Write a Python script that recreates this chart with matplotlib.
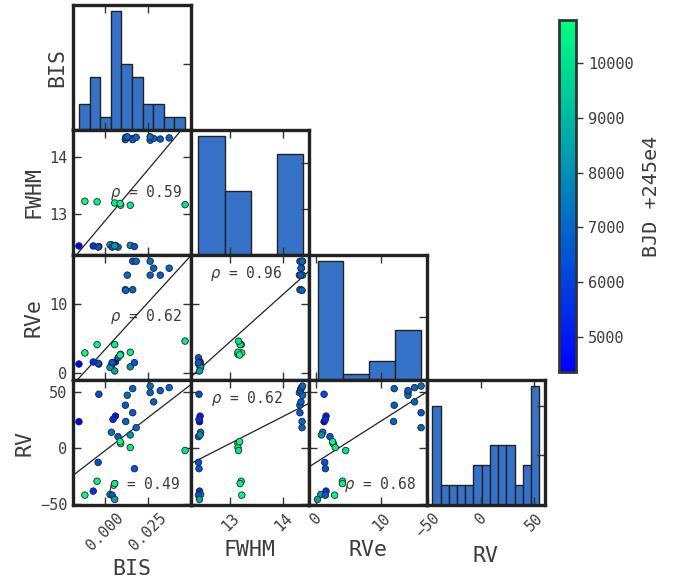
import numpy as np
import matplotlib
matplotlib.use("Agg")
import matplotlib.pyplot as plt
from matplotlib.ticker import MaxNLocator
from matplotlib.colors import Normalize

plt.rcParams['font.family'] = ['DejaVu Sans Mono', 'DejaVu Sans']

# ---- data: one entry per spectrum ----
names = ["BIS", "FWHM", "RVe", "RV"]

bis = [-0.0148, -0.0034, 0.0061, 0.0047, 0.0038, 0.0076, 0.0146, -0.0038, 0.0170,
       -0.0066, 0.0030, 0.0042, 0.0057,
       0.0160, 0.0118, 0.0120, 0.0260, 0.0129, 0.0318, 0.0369, 0.0280, 0.0260,
       0.0160, 0.0180,
       -0.0114, -0.0044, 0.0057, 0.0091, 0.0146, 0.0460, 0.0088]
fwhm = [12.43, 12.42, 12.44, 12.42, 12.45, 12.41, 12.44, 12.41, 12.42,
        12.43, 12.45, 12.41, 12.43,
        14.33, 14.31, 14.35, 14.30, 14.36, 14.32, 14.34, 14.33, 14.36,
        14.31, 14.35,
        13.22, 13.21, 13.19, 13.15, 13.15, 13.16, 13.18]
rve = [1.3, 1.3, 1.6, 1.5, 1.1, 2.2, 0.9, 1.4, 1.5,
       1.6, 0.8, 1.5, 0.3,
       12.0, 12.0, 11.9, 14.1, 14.1, 14.1, 15.1, 15.1, 16.1,
       16.1, 16.1,
       2.9, 4.1, 4.1, 2.7, 3.0, 4.6, 2.6]
rv = [23.3, 47.8, 28.3, 25.4, 13.9, 10.0, 11.5, -13.0, -18.6,
      -38.6, -41.6, -42.2, -46.0,
      52.8, 38.0, 23.5, 49.3, 46.9, 51.0, 53.7, 41.0, 55.1,
      31.3, 18.0,
      -42.2, -29.8, -31.9, 3.8, 0.3, -2.4, 5.5]
bjd = [4360, 6300, 5000, 5500, 7300, 6600, 8000, 6400, 6500,
       5600, 8200, 6600, 8400,
       6800, 6700, 6900, 6800, 7000, 6700, 6900, 6800, 7100,
       6600, 6900,
       10790, 10600, 10500, 10300, 10400, 10200, 10700]

hist_bins = {"BIS": 10, "FWHM": 4, "RVe": 4, "RV": 13}
limits = {"BIS": (-0.0182, 0.0494), "FWHM": (12.27, 14.48),
          "RVe": (-1.0, 17.0), "RV": (-51.0, 60.5)}

# correlation labels for lower-triangle panels (row, col)
rho_text = {(1, 0): "0.59", (2, 0): "0.62", (3, 0): "0.49",
            (2, 1): "0.96", (3, 1): "0.62", (3, 2): "0.68"}
rho_pos = {(1, 0): (0.62, 0.50), (2, 0): (0.62, 0.51), (3, 0): (0.60, 0.16),
           (2, 1): (0.47, 0.85), (3, 1): (0.47, 0.85), (3, 2): (0.60, 0.16)}

data = {"BIS": np.array(bis), "FWHM": np.array(fwhm),
        "RVe": np.array(rve), "RV": np.array(rv)}
bjd = np.array(bjd)

# ---- styling ----
spine_col = "#222222"
text_col = "#3c3c3c"
bar_col = "#3673c8"
cmap = plt.get_cmap("winter")
norm = Normalize(vmin=bjd.min(), vmax=bjd.max())

W_px, H_px = 683, 588
fig = plt.figure(figsize=(W_px / 100, H_px / 100), dpi=100)

x0, y0 = 73, 5
cw, rh = (545 - 73) / 4, 125
n = len(names)


def locator():
    return MaxNLocator(3, steps=[1, 2.5, 5, 10])


def style(ax):
    for s in ax.spines.values():
        s.set_linewidth(2.4)
        s.set_color(spine_col)
    ax.tick_params(direction="in", length=6, width=1.0, color="#333333",
                   labelcolor=text_col, labelsize=11, pad=4)
    ax.xaxis.set_major_locator(locator())
    ax.yaxis.set_major_locator(locator())


for i in range(n):
    for j in range(i + 1):
        rect = [(x0 + j * cw) / W_px, 1 - (y0 + (i + 1) * rh) / H_px,
                cw / W_px, rh / H_px]
        ax = fig.add_axes(rect)
        style(ax)
        xv = data[names[j]]
        if i == j:
            ax.hist(xv, bins=hist_bins[names[j]], color=bar_col,
                    edgecolor=spine_col, linewidth=1.0)
            ax.set_xlim(*limits[names[j]])
            ax.tick_params(top=True, bottom=True, left=False, right=True,
                           labelleft=False, labelright=False)
        else:
            yv = data[names[i]]
            ax.set_xlim(*limits[names[j]])
            ax.set_ylim(*limits[names[i]])
            m, b = np.polyfit(xv, yv, 1)
            ax.axline((0, b), slope=m, color=spine_col, lw=0.9, zorder=2)
            ax.scatter(xv, yv, c=bjd, cmap=cmap, norm=norm, s=22,
                       edgecolors=spine_col, linewidths=0.6, zorder=3)
            tx, ty = rho_pos[(i, j)]
            ax.text(tx, ty, r"$\rho$ = " + rho_text[(i, j)],
                    transform=ax.transAxes, ha="center", va="center",
                    fontsize=10.5, color=text_col, zorder=1)
            ax.tick_params(top=True, right=True)
            if j > 0:
                ax.tick_params(labelleft=False)
        if i < n - 1:
            ax.tick_params(labelbottom=False)
        else:
            ax.set_xlabel(names[j], fontsize=15.5, color=text_col)
            for lab in ax.get_xticklabels():
                lab.set_rotation(45)
        if j == 0:
            ax.set_ylabel(names[i], fontsize=15.5, color=text_col)
        if i == 0 and j == 0:
            ax.tick_params(labelleft=False)

# ---- colour bar ----
cax = fig.add_axes([559 / W_px, 1 - 372 / H_px, 17 / W_px, 352 / H_px])
sm = plt.cm.ScalarMappable(norm=norm, cmap=cmap)
cb = fig.colorbar(sm, cax=cax)
cb.outline.set_linewidth(2.0)
cb.outline.set_edgecolor("#333333")
cb.set_ticks([5000, 6000, 7000, 8000, 9000, 10000])
cax.tick_params(direction="out", length=5, width=1, color="#333333",
                labelcolor=text_col, labelsize=11)
cb.set_label("BJD +245e4", fontsize=14.5, color=text_col, labelpad=6)

fig.savefig("out.png", dpi=100)
